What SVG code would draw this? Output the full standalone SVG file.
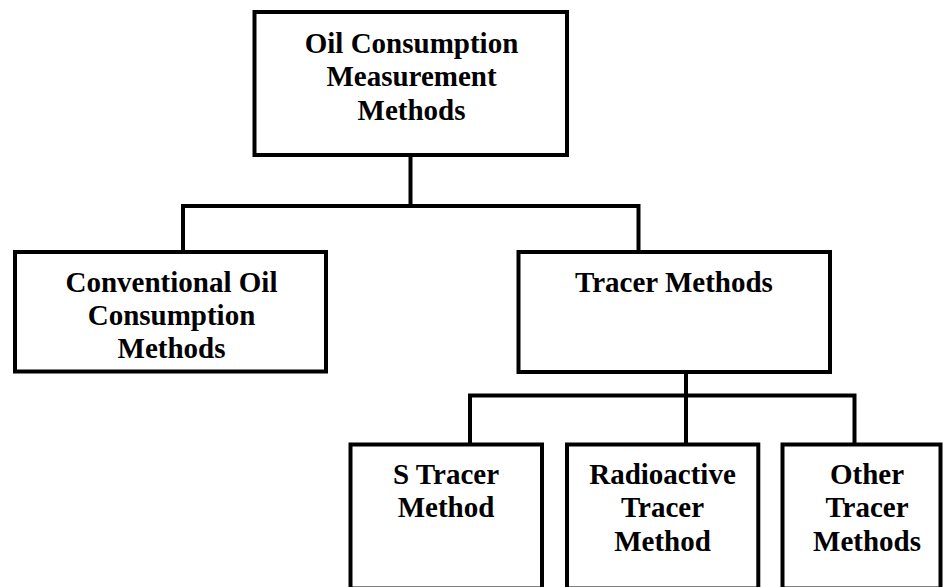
<svg xmlns="http://www.w3.org/2000/svg" width="944" height="587" viewBox="0 0 944 587">
<style>
.box{fill:#fff;stroke:#000;stroke-width:4}
.con{fill:none;stroke:#000;stroke-width:4;stroke-linecap:square}
.t{font-family:'Liberation Serif',Tinos,'DejaVu Serif',serif;font-weight:700;font-size:29px;text-anchor:middle;fill:#000}
</style>
<rect width="944" height="587" fill="#fff"/>
<g id="connectors">
<path class="con" d="M410.5,157 V206"/>
<path class="con" d="M183,250 V206 H638.5 V250"/>
<path class="con" d="M686,374 V395.5"/>
<path class="con" d="M470,442.5 V395.5 H854.5 V442.5"/>
<path class="con" d="M686,395.5 V442.5"/>
</g>
<g id="root">
<rect class="box" x="254.5" y="12" width="312.5" height="143"/>
<text class="t" x="411.5" y="52.5">Oil Consumption</text>
<text class="t" x="411.5" y="86">Measurement</text>
<text class="t" x="411.5" y="119.5">Methods</text>
</g>
<g id="conventional">
<rect class="box" x="15" y="252" width="311" height="119.5"/>
<text class="t" x="171.5" y="291.5">Conventional Oil</text>
<text class="t" x="171.5" y="325">Consumption</text>
<text class="t" x="171.5" y="358">Methods</text>
</g>
<g id="tracer">
<rect class="box" x="518.5" y="252" width="311.5" height="120"/>
<text class="t" x="674" y="292">Tracer Methods</text>
</g>
<g id="s-tracer">
<rect class="box" x="350.5" y="444.5" width="191.5" height="144"/>
<text class="t" x="446" y="483.5">S Tracer</text>
<text class="t" x="446" y="517">Method</text>
</g>
<g id="radioactive">
<rect class="box" x="567" y="444.5" width="191.3" height="144"/>
<text class="t" x="662.5" y="483.5">Radioactive</text>
<text class="t" x="662.5" y="517">Tracer</text>
<text class="t" x="662.5" y="550.5">Method</text>
</g>
<g id="other">
<rect class="box" x="782.5" y="444.5" width="158" height="144"/>
<text class="t" x="867" y="483.5">Other</text>
<text class="t" x="867" y="517">Tracer</text>
<text class="t" x="867" y="550.5">Methods</text>
</g>
</svg>
